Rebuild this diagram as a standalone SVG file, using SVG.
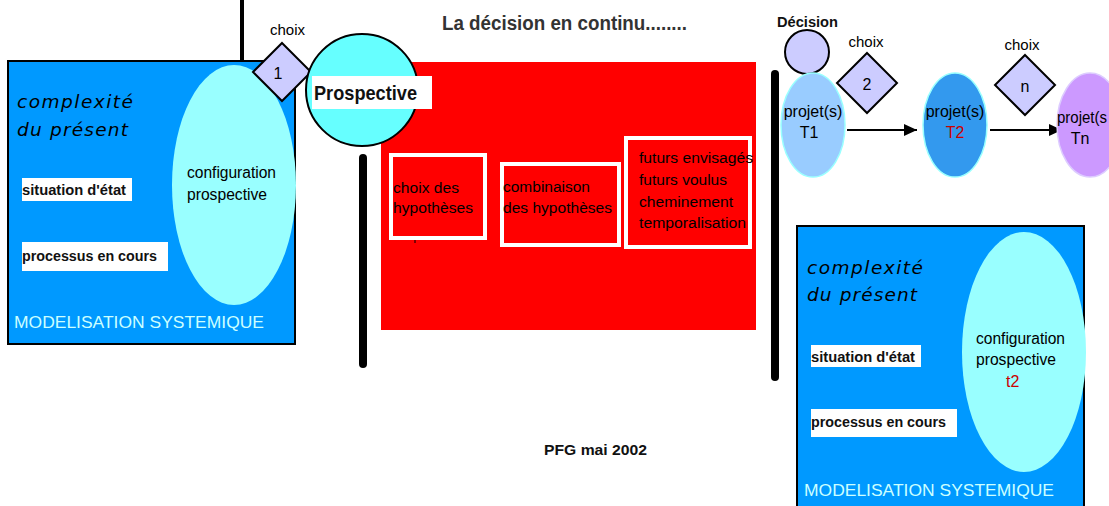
<svg xmlns="http://www.w3.org/2000/svg" width="1109" height="506" viewBox="0 0 1109 506">
<style>
.t{font-family:"Liberation Sans",Arial,sans-serif;fill:#000}
.n{font-size:16px}
.red{fill:#cc0000}
.it{font-family:"DejaVu Sans",Verdana,sans-serif;font-style:italic;font-size:18.5px;fill:#000}
.b{font-family:"Liberation Sans",Arial,sans-serif;font-weight:bold;fill:#111}
.title{fill:#333}
.mod{font-family:"Liberation Sans",Arial,sans-serif;font-size:17px;fill:#ccffff}
.blue{fill:#0099ff;stroke:#000;stroke-width:2}
.cfg{fill:#99ffff}
.dia{fill:#ccccff;stroke:#000;stroke-width:2}
.wb{fill:#fff}
.inner{fill:none;stroke:#fff;stroke-width:4}
.bar{stroke:#000;stroke-width:8;stroke-linecap:round}
</style>
<defs>
<marker id="ah" markerWidth="13" markerHeight="12" refX="13" refY="6" orient="auto" markerUnits="userSpaceOnUse">
<path d="M0,0 L13,6 L0,12 Z" fill="#000"/>
</marker>
</defs>
<rect width="1109" height="506" fill="#fff"/>

<text class="b title" x="442" y="30" font-size="20" textLength="245" lengthAdjust="spacingAndGlyphs">La décision en continu........</text>

<g id="connectors">
<line x1="242" y1="0" x2="242" y2="62" stroke="#000" stroke-width="4"/>
<line class="bar" x1="363" y1="158" x2="363" y2="364"/>
<line class="bar" x1="775" y1="74" x2="775" y2="377"/>
<line x1="847" y1="130" x2="917" y2="130" stroke="#000" stroke-width="2" marker-end="url(#ah)"/>
<line x1="990" y1="130" x2="1062" y2="130" stroke="#000" stroke-width="2" marker-end="url(#ah)"/>
</g>

<g id="modelisation-1">
<rect class="blue" x="8" y="61" width="287" height="283"/>
<text class="it" x="17" y="108" textLength="116" lengthAdjust="spacing">complexité</text>
<text class="it" x="17" y="136" textLength="111" lengthAdjust="spacing">du présent</text>
<rect class="wb" x="22" y="178" width="110" height="23"/>
<text class="b" x="22" y="195" font-size="14" textLength="104" lengthAdjust="spacingAndGlyphs">situation d'état</text>
<rect class="wb" x="22" y="242" width="146" height="29"/>
<text class="b" x="22" y="261" font-size="14" textLength="135" lengthAdjust="spacingAndGlyphs">processus en cours</text>
<text class="mod" x="14" y="328" textLength="250" lengthAdjust="spacingAndGlyphs">MODELISATION SYSTEMIQUE</text>
</g>

<g id="config-1">
<ellipse class="cfg" cx="234" cy="185" rx="62" ry="120"/>
<text class="t n" x="187" y="178" textLength="89" lengthAdjust="spacingAndGlyphs">configuration</text>
<text class="t n" x="187" y="200" textLength="80" lengthAdjust="spacingAndGlyphs">prospective</text>
</g>

<g id="choix-1">
<text class="t" x="270" y="35" font-size="15">choix</text>
<polygon class="dia" points="282,43 311,72 282,101 253,72"/>
<text class="t" x="278" y="79" font-size="16" text-anchor="middle">1</text>
</g>

<g id="phase">
<rect x="381" y="62" width="375" height="268" fill="#ff0000"/>
<line x1="415" y1="238" x2="415" y2="243" stroke="#000" stroke-width="1"/>
</g>

<g id="prospective">
<circle cx="362" cy="90" r="56" fill="#66ffff" stroke="#000" stroke-width="2"/>
<rect class="wb" x="312" y="76" width="120" height="33"/>
<text class="b" x="314" y="100" font-size="21" textLength="103" lengthAdjust="spacingAndGlyphs">Prospective</text>
</g>

<g id="choix-hypotheses">
<rect class="inner" x="391" y="155" width="94" height="83"/>
<text class="t" x="393" y="193" font-size="15.5" textLength="66" lengthAdjust="spacingAndGlyphs">choix des</text>
<text class="t" x="393" y="213" font-size="15.5" textLength="80" lengthAdjust="spacingAndGlyphs">hypothèses</text>
</g>

<g id="combinaison">
<rect class="inner" x="502" y="164" width="117" height="81"/>
<text class="t" x="503" y="192" font-size="15.5" textLength="87" lengthAdjust="spacingAndGlyphs">combinaison</text>
<text class="t" x="503" y="213" font-size="15.5" textLength="109" lengthAdjust="spacingAndGlyphs">des hypothèses</text>
</g>

<g id="futurs">
<rect class="inner" x="626" y="138" width="124" height="109"/>
<text class="t" x="639" y="163" font-size="15.5" textLength="114" lengthAdjust="spacingAndGlyphs">futurs envisagés</text>
<text class="t" x="639" y="185" font-size="15.5" textLength="88" lengthAdjust="spacingAndGlyphs">futurs voulus</text>
<text class="t" x="639" y="207" font-size="15.5" textLength="94" lengthAdjust="spacingAndGlyphs">cheminement</text>
<text class="t" x="639" y="228" font-size="15.5" textLength="107" lengthAdjust="spacingAndGlyphs">temporalisation</text>
</g>

<g id="decision">
<text class="b" x="777" y="27" font-size="14" textLength="61" lengthAdjust="spacingAndGlyphs">Décision</text>
<circle cx="807" cy="52" r="22" fill="#ccccff" stroke="#000" stroke-width="2"/>
</g>

<g id="projet-t1">
<ellipse cx="813" cy="125" rx="32" ry="52" fill="#99ccff" stroke="#99ffff" stroke-width="1.5"/>
<text class="t" x="813" y="117" font-size="16" text-anchor="middle">projet(s)</text>
<text class="t" x="809" y="138" font-size="16" text-anchor="middle">T1</text>
</g>

<g id="choix-2">
<text class="t" x="866" y="47" font-size="15" text-anchor="middle">choix</text>
<polygon class="dia" points="867,53 897,83 867,113 837,83"/>
<text class="t" x="867" y="90" font-size="16" text-anchor="middle">2</text>
</g>

<g id="projet-t2">
<ellipse cx="955" cy="125" rx="32" ry="52" fill="#3399ee" stroke="#99ffff" stroke-width="1.5"/>
<text class="t" x="955" y="117" font-size="16" text-anchor="middle">projet(s)</text>
<text class="t red" x="955" y="138" font-size="16" text-anchor="middle">T2</text>
</g>

<g id="choix-n">
<text class="t" x="1022" y="50" font-size="15" text-anchor="middle">choix</text>
<polygon class="dia" points="1025,55 1055,85 1025,115 995,85"/>
<text class="t" x="1025" y="92" font-size="16" text-anchor="middle">n</text>
</g>

<g id="projet-tn">
<ellipse cx="1090" cy="125" rx="33" ry="52" fill="#cc99ff" stroke="#ddccff" stroke-width="1.5"/>
<text class="t" x="1057" y="123" font-size="16" textLength="50" lengthAdjust="spacingAndGlyphs">projet(s</text>
<text class="t" x="1080" y="144" font-size="16" text-anchor="middle">Tn</text>
</g>

<g id="modelisation-2">
<rect class="blue" x="797" y="226" width="287" height="290"/>
<text class="it" x="807" y="274" textLength="116" lengthAdjust="spacing">complexité</text>
<text class="it" x="807" y="301" textLength="110" lengthAdjust="spacing">du présent</text>
<rect class="wb" x="811" y="345" width="110" height="22"/>
<text class="b" x="811" y="362" font-size="14" textLength="104" lengthAdjust="spacingAndGlyphs">situation d'état</text>
<rect class="wb" x="811" y="409" width="146" height="28"/>
<text class="b" x="811" y="427" font-size="14" textLength="135" lengthAdjust="spacingAndGlyphs">processus en cours</text>
<text class="mod" x="804" y="496" textLength="250" lengthAdjust="spacingAndGlyphs">MODELISATION SYSTEMIQUE</text>
</g>

<g id="config-2">
<ellipse class="cfg" cx="1024" cy="352" rx="62" ry="120"/>
<text class="t n" x="976" y="344" textLength="89" lengthAdjust="spacingAndGlyphs">configuration</text>
<text class="t n" x="976" y="365" textLength="80" lengthAdjust="spacingAndGlyphs">prospective</text>
<text class="t n red" x="1006" y="387">t2</text>
</g>

<text class="b" x="544" y="455" font-size="14" textLength="103" lengthAdjust="spacingAndGlyphs">PFG mai 2002</text>
</svg>
